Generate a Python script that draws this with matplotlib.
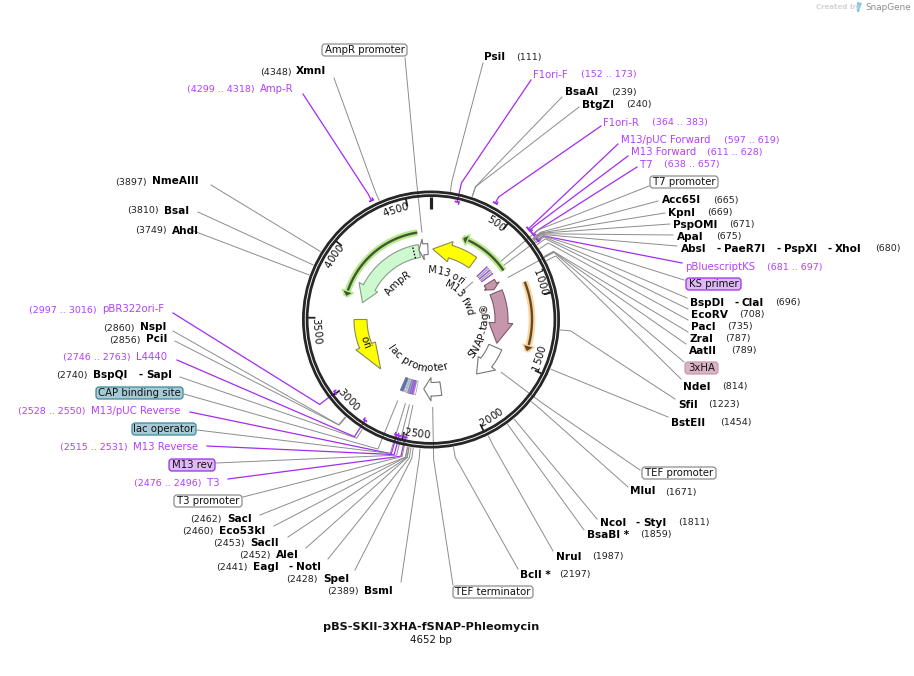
import numpy as np
import matplotlib
matplotlib.use('Agg')
import matplotlib.pyplot as plt
from matplotlib.patches import Circle, FancyBboxPatch, Polygon
from matplotlib.font_manager import FontProperties

# plasmid
plasmid_name = 'pBS-SKII-3XHA-fSNAP-Phleomycin'
plasmid_len = 4652
ring_ticks = [500, 1000, 1500, 2000, 2500, 3000, 3500, 4000, 4500]

# restriction sites: parts of the name, bp, printed position
site_names = [['PsiI'], ['BsaAI'], ['BtgZI'], ['Acc65I'], ['KpnI'], ['PspOMI'], ['ApaI'],
              ['AbsI', 'PaeR7I', 'PspXI', 'XhoI'], ['BspDI', 'ClaI'], ['EcoRV'], ['PacI'],
              ['ZraI'], ['AatII'], ['NdeI'], ['SfiI'], ['BstEII'], ['MluI'], ['NcoI', 'StyI'],
              ['BsaBI *'], ['NruI'], ['BclI *'], ['BsmI'], ['SpeI'], ['EagI', 'NotI'], ['AleI'],
              ['SacII'], ['Eco53kI'], ['SacI'], ['BspQI', 'SapI'], ['PciI'], ['NspI'],
              ['AhdI'], ['BsaI'], ['NmeAIII'], ['XmnI']]
site_bp = [111, 239, 240, 665, 669, 671, 675, 680, 696, 708, 735, 787, 789, 814, 1223, 1454,
           1671, 1811, 1859, 1987, 2197, 2389, 2428, 2441, 2452, 2453, 2460, 2462, 2740,
           2856, 2860, 3749, 3810, 3897, 4348]

# primers: name, start, end
primer_names = ['F1ori-F', 'F1ori-R', 'M13/pUC Forward', 'M13 Forward', 'T7', 'pBluescriptKS',
                'T3', 'M13 Reverse', 'M13/pUC Reverse', 'L4440', 'pBR322ori-F', 'Amp-R']
primer_start = [152, 364, 597, 611, 638, 681, 2476, 2515, 2528, 2746, 2997, 4299]
primer_end = [173, 383, 619, 628, 657, 697, 2496, 2531, 2550, 2763, 3016, 4318]
primer_outside = [False, True, True, True, True, True, False, False, False, False, False, True]

# boxed feature labels: name, bp the leader goes to, style
box_names = ['T7 promoter', 'KS primer', '3xHA', 'TEF promoter', 'TEF terminator', 'T3 promoter',
             'M13 rev', 'lac operator', 'CAP binding site', 'AmpR promoter']
box_bp = [648, 689, 793, 1640, 2312, 2480, 2510, 2545, 2614, 4575]
box_kind = ['white', 'purple', 'mauve', 'white', 'white', 'white', 'purple', 'teal', 'teal', 'white']

# layout of the labels, pixels
site_y = [57, 92, 104.5, 200, 212.5, 224.5, 236.5, 248.5, 302.5, 314.5, 326.5, 338.5, 350.5,
          386.5, 404.5, 422.5, 491.5, 522.5, 534.5, 556.5, 574.5, 591, 579, 567, 555, 543, 531,
          519, 375, 339.5, 327.5, 230.5, 210.5, 181.5, 71.5]
site_name_x = [[484], [565], [582], [662], [668], [673], [677], [681, 724, 784, 835], [690, 742],
               [691], [691], [690], [689], [683], [678], [671], [630], [600, 643], [587], [556],
               [520], [364], [323], [253, 296], [276], [250], [219], [227], [93, 146], [146],
               [140], [172], [164], [152], [296]]
site_pos_x = [516, 611, 626, 713, 707, 729, 716, 875, 775, 739, 727, 725, 731, 722, 708, 720,
              665, 678, 640, 592, 559, 327, 286, 216, 239, 213, 182, 190, 56, 109, 103, 135,
              127, 115, 260]
site_leader = [(483, 63), (562, 97), (579, 107), (658, 201), (665, 213), (670, 224), (673, 235),
               (677, 246), (687, 298), (688, 309), (688, 320), (688, 332), (686, 344), (681, 379),
               (675, 399), (668, 417), (628, 487), (597, 519), (584, 530), (553, 551), (518, 569),
               (401, 582), (355, 570), (328, 559), (306, 548), (288, 537), (274, 526), (260, 515),
               (180, 377), (175, 341), (173, 331), (191, 230), (198, 212), (211, 185), (334, 78)]
primer_y = [74.5, 122.5, 140, 152, 164.5, 267, 483, 447, 411, 357, 309.5, 89]
primer_name_x = [533, 603, 621, 631, 640, 685, 207, 133, 91, 136, 102, 260]
primer_pos_x = [581, 652, 723.5, 707, 664.5, 767, 134, 60, 18, 63, 29, 187]
primer_leader = [(531, 80), (601, 126), (618, 144), (628, 156), (637, 167), (682, 263), (228, 479),
                 (207, 446), (190, 412), (177, 360), (173, 313), (303, 94)]
box_x = [(650, 718), (686, 741), (685, 718), (642, 716), (453, 533), (174, 242), (169, 215),
         (132, 196), (96, 183), (322, 407)]
box_y = [182, 284, 368, 473, 592, 501, 465, 429, 393, 50]
box_leader = [(649, 186), (684, 280), (684, 362), (640, 470), (453, 585), (243, 497), (216, 463),
              (197, 430), (184, 394), (405, 58)]

cx, cy = 431, 319.5
gray = '#8c8c8c'
purple = '#a32cf0'
purple_txt = '#b340fa'


def polar(r, bp):
    a = 2*np.pi*np.asarray(bp, dtype=float)/plasmid_len
    return cx + r*np.sin(a), cy - r*np.cos(a)


def band(b0, b1, r0, r1, n=30):
    bs = np.linspace(b0, b1, n)
    x0, y0 = polar(r0, bs)
    x1, y1 = polar(r1, bs[::-1])
    return np.column_stack([np.r_[x0, x1], np.r_[y0, y1]])


def arrow(ax, start, head, tip, face, edge, rb=(64, 77), rh=(60, 81), lw=0.8):
    x0, y0 = polar(rb[0], np.linspace(start, head, 30))
    x1, y1 = polar(rb[1], np.linspace(head, start, 30))
    hx, hy = polar(np.array([rh[0], (rh[0]+rh[1])/2, rh[1]]), np.array([head, tip, head]))
    pts = np.column_stack([np.r_[x0, hx, x1], np.r_[y0, hy, y1]])
    ax.add_patch(Polygon(pts, closed=True, fc=face, ec=edge, lw=lw, zorder=4))


def glow_arc(ax, start, tip, r, glow, dark):
    bs = np.linspace(start, tip, 80)
    x, y = polar(r, bs)
    ax.plot(x, y, color=glow, lw=4.8, solid_capstyle='butt', zorder=3)
    ax.plot(x, y, color=dark, lw=1.7, solid_capstyle='butt', zorder=3.5)
    s = np.sign(tip-start)*45
    hx, hy = polar(np.array([r-6, r, r+6]), np.array([tip-s, tip+s*0.1, tip-s]))
    ax.add_patch(Polygon(np.column_stack([hx, hy]), fc=dark, ec=glow, lw=1.0, zorder=3.6))


def curved(ax, renderer, s, r, bp, size, flip, anchor='center'):
    fp = FontProperties(family='DejaVu Sans', size=size)
    w = [renderer.get_text_width_height_descent(s[:i], fp, False)[0]
         for i in range(len(s)+1)]
    total = w[-1]
    th = 360.0*bp/plasmid_len
    sign = -1 if flip else 1
    if anchor == 'tick':
        th0 = th - total/r*180/np.pi if not flip else th
    else:
        th0 = th - sign*total/2/r*180/np.pi
    for i, ch in enumerate(s):
        mid = (w[i]+w[i+1])/2
        t = th0 + sign*mid/r*180/np.pi
        x, y = polar(r, t*plasmid_len/360.0)
        rot = 180-t if flip else -t
        ax.text(x, y, ch, fontproperties=fp, rotation=rot, rotation_mode='anchor',
                ha='center', va='center', color='#111111', zorder=6)


def leader(ax, start, bp, r_mid, r_end, color, lw=0.7):
    mx, my = polar(r_mid, bp)
    ex, ey = polar(r_end, bp)
    ax.plot([start[0], mx, ex], [start[1], my, ey], color=color, lw=lw, zorder=1)


fig = plt.figure(figsize=(9.14, 6.76), dpi=100)
ax = fig.add_axes([0, 0, 1, 1])
ax.set_xlim(0, 914)
ax.set_ylim(676, 0)
ax.axis('off')
renderer = fig.canvas.get_renderer()

# leaders
for b, p in zip(site_bp, site_leader):
    leader(ax, p, b, 140, 130, gray)
for i, p in enumerate(primer_leader):
    mid = (primer_start[i]+primer_end[i])/2
    rt = 133 if primer_outside[i] else 120.5
    leader(ax, p, mid, 140, rt, purple, lw=0.9)
    xs, ys = polar(rt, np.linspace(primer_start[i], primer_end[i], 8))
    ax.plot(xs, ys, color=purple, lw=1.3, zorder=5.5)
    hx, hy = polar(np.array([rt, rt+(2 if primer_outside[i] else -2)]), primer_end[i])
    ax.plot(hx, hy, color=purple, lw=1.0, zorder=5.5)
for b, p in zip(box_bp, box_leader):
    leader(ax, p, b, 140, 88, gray)
lx, ly = polar(np.array([42, 56]), 620)
ax.plot(lx, ly, color=gray, lw=0.7, zorder=1)

# ring
ax.add_patch(Circle((cx, cy), 127.6, fc='none', ec='#262626', lw=2.0, zorder=5))
ax.add_patch(Circle((cx, cy), 123.9, fc='none', ec='#262626', lw=2.0, zorder=5))
for t in ring_ticks:
    tx, ty = polar(np.array([123, 116.5]), t)
    ax.plot(tx, ty, color='#222222', lw=1.3, zorder=5)
    curved(ax, renderer, str(t), 115.5, t, 7.4, 1000 < t <= 3500, anchor='tick')
tx, ty = polar(np.array([123, 111]), 0)
ax.plot(tx, ty, color='#222222', lw=2.3, solid_capstyle='butt', zorder=5)

# highlighted regions
glow_arc(ax, 723, 275, 87.5, '#b6ea8e', '#45552f')
glow_arc(ax, 4536, 3687, 88, '#b6ea8e', '#45552f')
glow_arc(ax, 879, 1402, 101, '#fdd49b', '#5f4a2c')

# inner features
arrow(ax, 470, 205, 18, '#ffff00', '#8a8a55')
arrow(ax, 4527, 3841, 3667, '#ccf9cd', '#8c9b8c', rb=(63, 76), rh=(60, 81))
arrow(ax, 4620, 4570, 4525, 'white', '#777777', rb=(65, 76), rh=(60, 81))
arrow(ax, 3489, 3205, 2914, '#ffff00', '#8a8a55')
arrow(ax, 870, 1200, 1420, '#c696ad', '#7c5b6c', rb=(64, 77), rh=(58, 82))
arrow(ax, 745, 790, 835, '#c696ad', '#7c5b6c', rb=(63, 75), rh=(61, 78))
arrow(ax, 1463, 1655, 1810, 'white', '#777777', rb=(63, 77), rh=(60, 82))
arrow(ax, 2221, 2326, 2403, 'white', '#777777', rb=(63, 76.5), rh=(58, 81.5))
dx, dy = polar(np.array([63, 76]), 4468)
ax.plot(dx, dy, color='black', lw=0.9, ls=(0, (1.3, 1.3)), zorder=5)

# small feature stripes near the two multiple cloning sites
stripe_start = [601, 622, 643, 664, 685,
                2476, 2500, 2515, 2532, 2560, 2580, 2600]
stripe_end = [609, 630, 651, 672, 693,
              2494, 2512, 2528, 2556, 2572, 2592, 2630]
stripe_col = ['#c77dff', 'white', '#c77dff', 'white', '#c77dff',
              'white', '#c77dff', '#c77dff', '#6fb0bd', 'white', 'white', '#3f8797']
for s, e, c in zip(stripe_start, stripe_end, stripe_col):
    ax.add_patch(Polygon(band(s, e, 63, 77, n=4), fc=c, ec='#888888' if c == 'white' else '#8a3ad0',
                         lw=0.4, zorder=4))

# feature labels on the arcs
curved(ax, renderer, 'M13 ori', 49, 246, 7.2, False)
curved(ax, renderer, 'M13 fwd', 39, 672, 7.2, False)
curved(ax, renderer, 'SNAP-tag®', 54, 1331, 7.6, True)
curved(ax, renderer, 'lac promoter', 49, 2570, 7.4, True)
curved(ax, renderer, 'ori', 70, 3244, 7.4, True)
curved(ax, renderer, 'AmpR', 50, 4096, 7.4, False)

# site labels
for i, names in enumerate(site_names):
    y = site_y[i]
    for j, (nm, x) in enumerate(zip(names, site_name_x[i])):
        ax.text(x, y, nm, fontsize=7.6, fontweight='bold', color='black', va='center', ha='left', zorder=7)
        if j > 0:
            ax.text(x-7.5, y, '-', fontsize=7.2, fontweight='bold', color='black', va='center', ha='left', zorder=7)
    ax.text(site_pos_x[i], y+0.5, '(%d)' % site_bp[i], fontsize=6.8, color='#222222', va='center', ha='left', zorder=7)

# primer labels
for i, nm in enumerate(primer_names):
    ax.text(primer_name_x[i], primer_y[i], nm, fontsize=7.3, color=purple_txt, va='center', ha='left', zorder=7)
    ax.text(primer_pos_x[i], primer_y[i]+0.5, '(%d .. %d)' % (primer_start[i], primer_end[i]),
            fontsize=6.8, color=purple_txt, va='center', ha='left', zorder=7)

# boxed labels
box_fill = {'white': 'white', 'purple': '#ddb9f5', 'mauve': '#dab2c6', 'teal': '#a6cad6'}
box_edge = {'white': '#8c8c8c', 'purple': '#9a2ee6', 'mauve': '#c49ab0', 'teal': '#3d8a9c'}
for i, nm in enumerate(box_names):
    x0, x1 = box_x[i]
    y = box_y[i]
    ax.add_patch(FancyBboxPatch((x0, y-6), x1-x0, 12, boxstyle='round,pad=0,rounding_size=3',
                                fc=box_fill[box_kind[i]], ec=box_edge[box_kind[i]], lw=0.9, zorder=6))
    ax.text((x0+x1)/2, y, nm, fontsize=7.3, color='#111111', va='center', ha='center', zorder=7)

# title
ax.text(431, 627, plasmid_name, fontsize=8.1, fontweight='bold', ha='center', va='center', color='#111111')
ax.text(431, 640, '%d bp' % plasmid_len, fontsize=7.4, ha='center', va='center', color='#111111')

# credit
ax.text(816, 7, 'Created by', fontsize=5, fontweight='bold', color='#d4d4d4', ha='left', va='center')
ax.add_patch(Polygon([(857, 2), (862, 3), (860, 8), (859, 12), (857, 12)], fc='#7cc7ee', ec='none'))
ax.text(865, 7, 'SnapGene', fontsize=6.4, color='#8a8f94', ha='left', va='center')

fig.savefig('out.png', dpi=100)
